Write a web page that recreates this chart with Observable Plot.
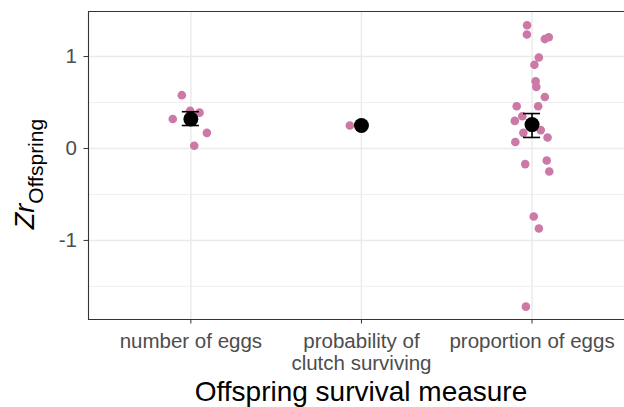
<!DOCTYPE html>
<html>
<head>
<meta charset="utf-8">
<script src="https://cdn.jsdelivr.net/npm/d3@7"></script>
<script src="https://cdn.jsdelivr.net/npm/@observablehq/plot@0.6"></script>
<style>
  html, body { margin: 0; padding: 0; background: #fff; }
  #chart { width: 624px; height: 407px; overflow: hidden; }
</style>
</head>
<body>
<div id="chart"></div>
<script>
// ---- data ----
const categories = ["number of eggs", "probability of\nclutch surviving", "proportion of eggs"];

const zrNumberEggs     = [0.58, 0.32, 0.41, 0.39, 0.17, 0.03];
const jitterNumberEggs = [-0.053, -0.106, -0.004, 0.051, 0.094, 0.020];

const zrProbClutch     = [0.25];
const jitterProbClutch = [-0.068];

const zrPropEggs = [1.34, 1.24, 1.19, 1.21, 0.99, 0.91, 0.73, 0.67, 0.56, 0.46, 0.46,
                    0.35, 0.30, 0.17, 0.20, 0.12, 0.07, -0.17, -0.13, -0.25, -0.74, -0.87, -1.72];
const jitterPropEggs = [-0.029, -0.030, 0.075, 0.098, 0.040, 0.014, 0.021, 0.025, 0.075, -0.090, 0.036,
                        -0.057, -0.101, -0.051, 0.051, 0.091, -0.098, -0.040, 0.086, 0.101, 0.010, 0.040, -0.036];

const meanZr = [0.32, 0.25, 0.26];
const ciLow  = [0.25, null, 0.12];
const ciHigh = [0.40, null, 0.38];

const yTicks = [-1, 0, 1];
const yMinorTicks = [-1.5, -0.5, 0.5];
const yDomain = [-1.86, 1.49];
const xDomain = [0.4, 3.542];

const xTitle = "Offspring survival measure";
const yTitleMain = "Zr";
const yTitleSub = "Offspring";

// ---- tables ----
const points = [
  ...zrNumberEggs.map((v, i) => ({pos: 1 + jitterNumberEggs[i], zr: v})),
  ...zrProbClutch.map((v, i) => ({pos: 2 + jitterProbClutch[i], zr: v})),
  ...zrPropEggs.map((v, i) => ({pos: 3 + jitterPropEggs[i], zr: v}))
];
const means = meanZr.map((m, i) => ({pos: i + 1, zr: m, lo: ciLow[i], hi: ciHigh[i]}));
const bars = means.filter(d => d.lo != null);
const capHalf = 0.05;

const pink = "#CC79A7";
const grid = "#EBEBEB";
const dark = "#333333";
const font = "'Liberation Sans', Arial, Helvetica, sans-serif";

const chart = Plot.plot({
  width: 624,
  height: 407,
  marginLeft: 88,
  marginRight: 0,
  marginTop: 11,
  marginBottom: 88,
  style: {fontFamily: font, fontSize: "20.5px", background: "#fff"},
  x: {domain: xDomain, axis: null},
  y: {domain: yDomain, axis: null},
  marks: [
    Plot.ruleY(yMinorTicks, {stroke: grid, strokeWidth: 0.8}),
    Plot.ruleY(yTicks, {stroke: grid, strokeWidth: 1.5}),
    Plot.ruleX([1, 2, 3], {stroke: grid, strokeWidth: 1.5}),
    Plot.dot(points, {x: "pos", y: "zr", r: 4.3, fill: pink, stroke: null}),
    Plot.ruleX(bars, {x: "pos", y1: "lo", y2: "hi", stroke: "black", strokeWidth: 1.6}),
    Plot.ruleY(bars, {y: "lo", x1: d => d.pos - capHalf, x2: d => d.pos + capHalf, stroke: "black", strokeWidth: 1.6}),
    Plot.ruleY(bars, {y: "hi", x1: d => d.pos - capHalf, x2: d => d.pos + capHalf, stroke: "black", strokeWidth: 1.6}),
    Plot.dot(means, {x: "pos", y: "zr", r: 7.5, fill: "black", stroke: null}),
    Plot.ruleX([xDomain[0]], {stroke: dark, strokeWidth: 1.1}),
    Plot.ruleY(yDomain, {stroke: dark, strokeWidth: 1.1}),
    Plot.axisY({ticks: yTicks, tickFormat: d => String(d), tickSize: 4.5, tickPadding: 7,
                stroke: dark, fill: "#4D4D4D", fontSize: 20.5, label: null}),
    Plot.axisX({ticks: [1, 2, 3], tickFormat: d => categories[d - 1], tickSize: 4.5, tickPadding: 9,
                stroke: dark, fill: "#4D4D4D", fontSize: 20.5, lineHeight: 1.05, label: null})
  ]
});

document.getElementById("chart").appendChild(chart);

const svg = d3.select(chart);
svg.append("text")
  .attr("x", 361).attr("y", 401)
  .attr("text-anchor", "middle")
  .attr("fill", "black")
  .style("font-family", font)
  .style("font-size", "28px")
  .text(xTitle);

const yt = svg.append("text")
  .attr("transform", "translate(34,174) rotate(-90)")
  .attr("text-anchor", "middle")
  .attr("fill", "black")
  .style("font-family", font);
yt.append("tspan").style("font-size", "27px").style("font-style", "italic").text(yTitleMain);
yt.append("tspan").style("font-size", "21px").attr("dy", 9).text(yTitleSub);
</script>
</body>
</html>
